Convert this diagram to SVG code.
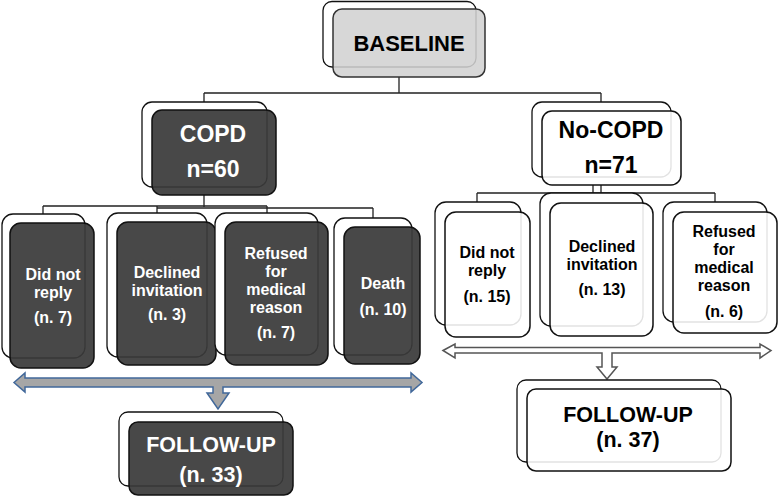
<svg xmlns="http://www.w3.org/2000/svg" width="778" height="496" viewBox="0 0 778 496">
<style>
.back{fill:#fff;stroke:#111;stroke-width:1.3}
.fd{fill:#3a3a3a;fill-opacity:.93;stroke:#111;stroke-width:1.5}
.fw{fill:#fff;fill-opacity:.88;stroke:#111;stroke-width:1.5}
.fg{fill:#d2d2d2;fill-opacity:.88;stroke:#333;stroke-width:1.5}
.conn{stroke:#222;stroke-width:1.3;fill:none}
text{font-family:"Liberation Sans",Arial,sans-serif;font-weight:bold;text-anchor:middle}
.w{fill:#fff}
.b{fill:#000}
.big{font-size:23px}
.sm{font-size:16px}
.arL{fill:#a6a6a6;stroke:#41689a;stroke-width:1.5;stroke-linejoin:miter}
.arR{fill:#fff;stroke:#555;stroke-width:1.5}
</style>
<rect width="778" height="496" fill="#fff"/>
<g id="connectors">
<path class="conn" d="M399,77V93M204,93H601M204,93V102M601,93V102"/>
<path class="conn" d="M204,195V207M43,206H267M157,208H373M43,206V214M157,206V213M267,206V213M373,208V218"/>
<path class="conn" d="M593,185V193M601,185V193M477,193H715M477,193V202M715,193V202"/>
<path class="arL" d="M14,382.5L25,373V378H411V373L422,382.5L411,392V387H223V393H229L218,409L207,393H213V387H25V392Z"/>
<path class="arR" d="M443,350.5L455,344V347.5H760V344L771,350.5L760,358V353H612V367H617L607,379L597,367H602V353H455V358Z"/>
</g>
<g id="baseline">
<rect class="back" x="323" y="1.5" width="153" height="65.5" rx="9"/>
<rect class="fg" x="333" y="9" width="152" height="68" rx="9"/>
<text class="b" x="409" y="51" font-size="22">BASELINE</text>
</g>
<g id="copd">
<rect class="back" x="142" y="102" width="125" height="85" rx="10"/>
<rect class="fd" x="152" y="110" width="124" height="85" rx="10"/>
<text class="w big" x="213" y="142">COPD</text>
<text class="w big" x="213" y="177">n=60</text>
</g>
<g id="nocopd">
<rect class="back" x="532" y="102" width="139" height="75" rx="10"/>
<rect class="fw" x="542" y="111" width="139" height="74" rx="10"/>
<text class="b big" x="611" y="138">No-COPD</text>
<text class="b big" x="611" y="173">n=71</text>
</g>
<g id="copd-noreply">
<rect class="back" x="2" y="214" width="83" height="144" rx="11"/>
<rect class="fd" x="10" y="223" width="84" height="145" rx="11"/>
<text class="w sm" x="53" y="280">Did not</text>
<text class="w sm" x="53" y="298">reply</text>
<text class="w sm" x="53" y="323">(n. 7)</text>
</g>
<g id="copd-declined">
<rect class="back" x="107" y="213" width="100" height="144" rx="11"/>
<rect class="fd" x="117" y="222" width="99" height="143" rx="11"/>
<text class="w sm" x="167" y="278">Declined</text>
<text class="w sm" x="167" y="296">invitation</text>
<text class="w sm" x="167" y="320">(n. 3)</text>
</g>
<g id="copd-refused">
<rect class="back" x="215" y="213" width="103" height="142" rx="11"/>
<rect class="fd" x="225" y="222" width="103" height="143" rx="11"/>
<text class="w sm" x="276" y="259">Refused</text>
<text class="w sm" x="276" y="277">for</text>
<text class="w sm" x="276" y="295">medical</text>
<text class="w sm" x="276" y="313">reason</text>
<text class="w sm" x="276" y="338">(n. 7)</text>
</g>
<g id="copd-death">
<rect class="back" x="334" y="218" width="78" height="137" rx="11"/>
<rect class="fd" x="344" y="227" width="76" height="137" rx="11"/>
<text class="w sm" x="383" y="289">Death</text>
<text class="w sm" x="383" y="315">(n. 10)</text>
</g>
<g id="nocopd-noreply">
<rect class="back" x="435" y="202" width="86" height="123" rx="11"/>
<rect class="fw" x="445" y="212" width="85" height="125" rx="11"/>
<text class="b sm" x="487" y="258">Did not</text>
<text class="b sm" x="487" y="276">reply</text>
<text class="b sm" x="487" y="302">(n. 15)</text>
</g>
<g id="nocopd-declined">
<rect class="back" x="540" y="193" width="103" height="133" rx="11"/>
<rect class="fw" x="550" y="203" width="103" height="133" rx="11"/>
<text class="b sm" x="602" y="252">Declined</text>
<text class="b sm" x="602" y="270">invitation</text>
<text class="b sm" x="602" y="295">(n. 13)</text>
</g>
<g id="nocopd-refused">
<rect class="back" x="663" y="202" width="104" height="120" rx="11"/>
<rect class="fw" x="673" y="212" width="104" height="121" rx="11"/>
<text class="b sm" x="724" y="237">Refused</text>
<text class="b sm" x="724" y="255">for</text>
<text class="b sm" x="724" y="273">medical</text>
<text class="b sm" x="724" y="291">reason</text>
<text class="b sm" x="724" y="317">(n. 6)</text>
</g>
<g id="copd-followup">
<rect class="back" x="119" y="412" width="164" height="74" rx="9"/>
<rect class="fd" x="129" y="422" width="164" height="73" rx="9"/>
<text class="w" x="211" y="452" font-size="21.5">FOLLOW-UP</text>
<text class="w" x="211" y="482" font-size="21.5">(n. 33)</text>
</g>
<g id="nocopd-followup">
<rect class="back" x="517" y="380" width="204" height="82" rx="9"/>
<rect class="fw" x="527" y="389" width="204" height="82" rx="9"/>
<text class="b" x="628" y="422" font-size="21.5">FOLLOW-UP</text>
<text class="b" x="628" y="447" font-size="21.5">(n. 37)</text>
</g>
</svg>
